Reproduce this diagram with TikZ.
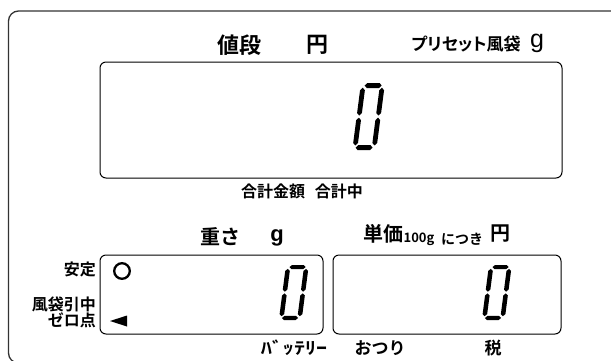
\documentclass[tikz,border=0pt]{standalone}
\usepackage{fontspec}
\usepackage{graphicx}
\newfontfamily\jp{Noto Sans CJK JP Bold}
\newfontfamily\jpp{Noto Sans CJK JP Bold}[RawFeature=+palt]
\newfontfamily\lsans{Liberation Sans}
\newfontfamily\lsansb{Liberation Sans Bold}
\newcommand\hseg[3]{\fill (#1,#3) -- (#1+2.4,#3-2.4) -- (#2-2.4,#3-2.4) -- (#2,#3) -- (#2-2.4,#3+2.4) -- (#1+2.4,#3+2.4) -- cycle;}
\newcommand\vseg[3]{\fill (#1,#2) -- (#1+2.4,#2+2.4) -- (#1+2.4,#3-2.4) -- (#1,#3) -- (#1-2.4,#3-2.4) -- (#1-2.4,#2+2.4) -- cycle;}
\newcommand\segzero[4]{%
  \begin{scope}[shift={(#1,#2)}]
  \begin{scope}[cm={1,0,0.13,1,(0,0)}]
  \begin{scope}[xscale=#3,yscale=#4]
    \hseg{4}{21}{2.4}
    \hseg{3}{20}{61.6}
    \vseg{2.4}{4.5}{31}
    \vseg{2.4}{33}{59.5}
    \vseg{21.6}{4.5}{31}
    \vseg{21.6}{33}{59.5}
  \end{scope}
  \end{scope}
  \end{scope}}
\begin{document}
\begin{tikzpicture}[x=1pt,y=-1pt,
  lcd/.style={draw=black,line width=1pt,rounded corners=6pt,minimum width=#1,inner sep=0pt},
  lbl/.style={inner sep=0pt,font=\jp\fontsize{#1}{#1}\selectfont},
  plbl/.style={inner sep=0pt,font=\jpp\fontsize{#1}{#1}\selectfont},
  rlbl/.style={lbl=#1,anchor=east}]
\useasboundingbox (0,0) rectangle (611,360);
\draw[line width=1.3pt,draw=black!80,rounded corners=10pt] (8.5,11) rectangle (700,363);
% boxes
\node[lcd=462pt,minimum height=116pt] (main) at (331,120) {};
\node[lcd=223pt,minimum height=79pt] (wbox) at (211.5,294.5) {};
\node[lcd=228pt,minimum height=79pt] (pbox) at (447,294.5) {};
% digits
\segzero{361}{83}{1}{1.05}
\segzero{286}{265}{0.95}{0.86}
\segzero{489}{265}{0.95}{0.86}
% top labels
\node[lbl=22] (nedan) at (239,45) {値段};
\node[lbl=22] (yen1) at (317,45) {円};
\node[plbl=17] (preset) at (466,44) {プリセット風袋};
\node[inner sep=0pt,font=\lsans\fontsize{25}{25}\selectfont] (g1) at (537,43) {g};
\node[lbl=16] (goukei) at (302,191) {合計金額\hspace{0.6em}合計中};
\node[lbl=20] (omosa) at (220,237) {重さ};
\node[inner sep=0pt,font=\lsansb\fontsize{22}{22}\selectfont] (g2) at (277,238) {g};
\node[lbl=20] (tanka) at (383,234) {単価};
\node[lbl=13] (hyaku) at (419,239) {100g};
\node[lbl=14] (nitsuki) at (462,239) {につき};
\node[lbl=20] (yen2) at (500,234) {円};
% left labels
\node[rlbl=16] (antei) at (96,269) {安定};
\node[rlbl=16] (fuutai) at (96,304) {風袋引中};
\node[rlbl=16] (zero) at (96,320) {ゼロ点};
\draw[line width=2.3pt] (122,271) circle (7.8pt);
\node[coordinate] (tri) at (110,321) {};
\fill (tri) -- (127,315.5) -- (127,326.5) -- cycle;
% bottom labels
\node[lbl=17] (batt) at (294,348) {\scalebox{1.3}[1]{ﾊﾞｯﾃﾘｰ}};
\node[lbl=17] (otsuri) at (380,348) {おつり};
\node[lbl=17] (zei) at (493,348) {税};
\end{tikzpicture}
\end{document}
